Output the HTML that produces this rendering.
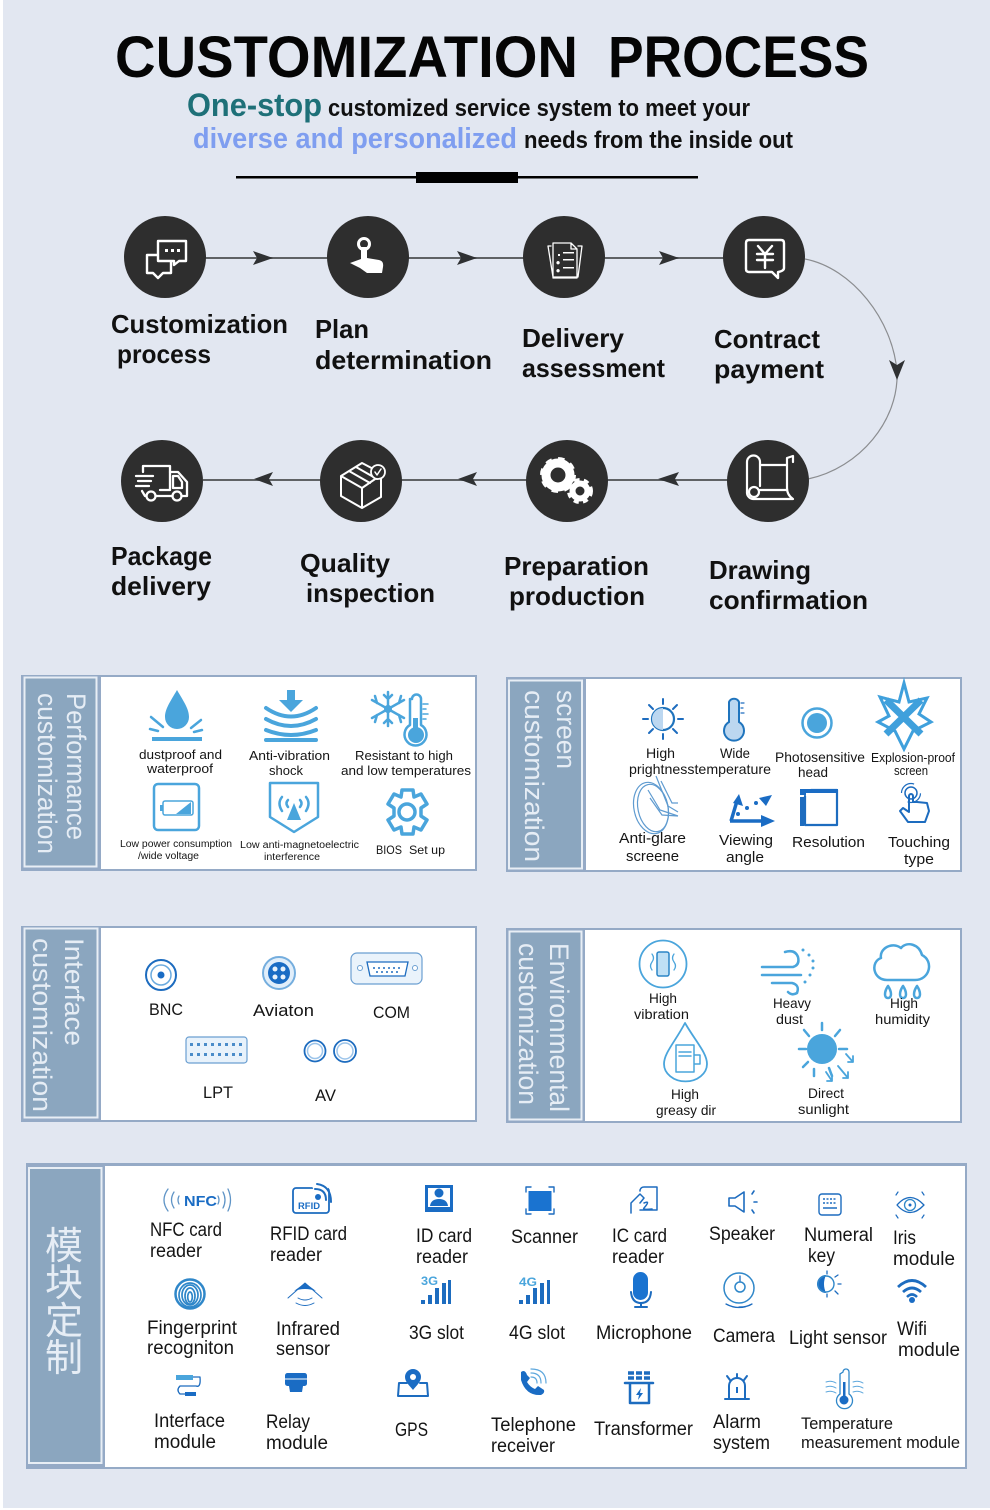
<!DOCTYPE html>
<html><head><meta charset="utf-8"><title>Customization Process</title>
<style>
html,body{margin:0;padding:0;background:#fff;width:990px;height:1510px;overflow:hidden}
svg{display:block}
text{font-family:"Liberation Sans","Noto Sans CJK SC",sans-serif;fill:#151515}
.h{font-weight:700;font-size:58px;fill:#050505}
.s{font-weight:700;font-size:24px;fill:#111}
.st{font-weight:700;font-size:26px;fill:#111}
.v{font-size:27px;fill:#e6edf5}
.a{font-size:13px}.b{font-size:10px}.c{font-size:14px}.d{font-size:17px}.e{font-size:14px}.f{font-size:19px}
.w{fill:none;stroke:#fff;stroke-width:2;stroke-linecap:round;stroke-linejoin:round}
.l{fill:none;stroke:#4aa5dc;stroke-width:2.5;stroke-linecap:round;stroke-linejoin:round}
.k{fill:none;stroke:#1d6cbf;stroke-width:2;stroke-linecap:round;stroke-linejoin:round}
.lf{fill:#4aa5dc}.kf{fill:#1a6cc4}
</style></head><body>
<svg width="990" height="1510" viewBox="0 0 990 1510" xmlns="http://www.w3.org/2000/svg">
<rect x="3" y="0" width="987" height="1508" fill="#e2e7f1"/>

<!-- heading -->
<text class="h" x="115" y="77" textLength="463" lengthAdjust="spacingAndGlyphs">CUSTOMIZATION</text>
<text class="h" x="608" y="77" textLength="261" lengthAdjust="spacingAndGlyphs">PROCESS</text>
<text x="187" y="116" textLength="135" lengthAdjust="spacingAndGlyphs" style="font-size:32px;font-weight:700;fill:#1e7078">One-stop</text>
<text class="s" x="328" y="116" textLength="422" lengthAdjust="spacingAndGlyphs">customized service system to meet your</text>
<text x="193" y="148" textLength="324" lengthAdjust="spacingAndGlyphs" style="font-size:29px;font-weight:700;fill:#7f9ef0">diverse and personalized</text>
<text class="s" x="524" y="148" textLength="269" lengthAdjust="spacingAndGlyphs">needs from the inside out</text>
<rect x="236" y="176" width="462" height="2.5" fill="#000"/>
<rect x="416" y="172" width="102" height="11" fill="#000"/>

<!-- connectors -->
<g stroke="#5f6265" stroke-width="2" fill="none">
<path d="M205 258H328M408 258H525M604 258H725"/>
<path d="M203 480H322M401 480H527M606 480H728"/>
</g>
<path d="M805 259C852 268 893 320 897 372C899 420 860 468 808 479" fill="none" stroke="#8b8d90" stroke-width="1.2"/>
<g fill="#2f3133">
<path d="M273 258L253 251L257 258L253 265Z"/>
<path d="M477 258L457 251L461 258L457 265Z"/>
<path d="M679 258L659 251L663 258L659 265Z"/>
<path d="M254 479L273 472L269 479L273 486Z"/>
<path d="M458 479L477 472L473 479L477 486Z"/>
<path d="M658 479L679 472L675 479L679 486Z"/>
<path d="M897 380L889 360L897 365L905 360Z"/>
</g>

<!-- circles -->
<g fill="#2e2e2e">
<circle cx="165" cy="257" r="41"/><circle cx="368" cy="257" r="41"/><circle cx="564" cy="257" r="41"/><circle cx="764" cy="257" r="41"/>
<circle cx="162" cy="481" r="41"/><circle cx="361" cy="481" r="41"/><circle cx="567" cy="481" r="41"/><circle cx="768" cy="481" r="41"/>
</g>

<!-- step icons -->
<path class="w" style="stroke-width:2.400" d="M158 241H186V261H179L174 265V261H158ZM158 255H147V273H153L158 278L163 273H171V262"/>
<g fill="#fff"><rect x="165" y="249" width="3" height="3"/><rect x="171" y="249" width="3" height="3"/><rect x="177" y="249" width="3" height="3"/></g>
<circle cx="364" cy="244" r="5.500" fill="none" stroke="#fff" stroke-width="3"/>
<path fill="#fff" d="M350 263L361 259V247H367V258L379 260Q384 261 383 267L382 273H367L360 268Z"/>
<path class="w" style="stroke-width:1.300" d="M551 246L548 246L553 277H578L582 246H578M553 243H571L577 249V278H553ZM571 243V249H577"/>
<g fill="#fff"><path d="M558 254H560V256H558ZM558 261a1.7 1.7 0 1 0 .1 0ZM558 269a1.7 1.7 0 1 0 .1 0Z"/><rect x="563" y="252" width="11" height="1.500"/><rect x="563" y="259" width="11" height="1.500"/><rect x="563" y="267" width="11" height="1.500"/></g>
<path class="w" style="stroke-width:2.400" d="M749 240H781Q784 240 784 243V268Q784 271 778 272V278L772 272H749Q746 272 746 269V243Q746 240 749 240Z"/>
<path class="w" style="stroke-width:2.400" d="M758 246L765 254L772 246M757 254H773M757 260H773M765 254V268"/>
<g class="w" style="stroke-width:2.300"><path d="M143 472V466H170V490H160"/><path d="M170 472H178L187 482V496H183"/><path d="M173 476H178L182 482V488H173Z"/><path d="M136 476H153M138 481H151M136 486H149M142 491L145 496H146M156 496H172"/><circle cx="151" cy="496" r="4.500"/><circle cx="177" cy="496" r="4.500"/></g>
<g class="w" style="stroke-width:2"><path d="M341 476L362 463L381 473V497L362 508L341 496ZM341 476L362 488L381 475M362 488V508M349 471L370 483M356 467L377 479"/></g>
<circle cx="378" cy="472" r="7" fill="#2e2e2e" stroke="#fff" stroke-width="1.800"/><path class="w" style="stroke-width:1.500" d="M375 472L377 475L381 469"/>
<g fill="none" stroke="#fff">
<circle cx="558" cy="475" r="12" stroke-width="9"/>
<circle cx="558" cy="475" r="15.500" stroke-width="5" stroke-dasharray="6.100 6.070"/>
<circle cx="580" cy="491" r="7.500" stroke-width="6"/>
<circle cx="580" cy="491" r="11" stroke-width="4" stroke-dasharray="5 4.210"/>
</g>
<g class="w" style="stroke-width:2.200"><path d="M760 486V462A6.500 6.500 0 0 0 747 462V492A6.500 6.500 0 0 0 754 499H793Q787 495 787 488V458L793 456V462M760 465H787M760 490H787"/><circle cx="754" cy="492" r="5"/></g>

<!-- step labels -->
<text class="st" x="111" y="333" textLength="177" lengthAdjust="spacingAndGlyphs">Customization</text>
<text class="st" x="117" y="363" textLength="94" lengthAdjust="spacingAndGlyphs">process</text>
<text class="st" x="315" y="338" textLength="54" lengthAdjust="spacingAndGlyphs">Plan</text>
<text class="st" x="315" y="369" textLength="177" lengthAdjust="spacingAndGlyphs">determination</text>
<text class="st" x="522" y="347" textLength="102" lengthAdjust="spacingAndGlyphs">Delivery</text>
<text class="st" x="522" y="377" textLength="143" lengthAdjust="spacingAndGlyphs">assessment</text>
<text class="st" x="714" y="348" textLength="106" lengthAdjust="spacingAndGlyphs">Contract</text>
<text class="st" x="714" y="378" textLength="110" lengthAdjust="spacingAndGlyphs">payment</text>
<text class="st" x="111" y="565" textLength="101" lengthAdjust="spacingAndGlyphs">Package</text>
<text class="st" x="111" y="595" textLength="100" lengthAdjust="spacingAndGlyphs">delivery</text>
<text class="st" x="300" y="572" textLength="90" lengthAdjust="spacingAndGlyphs">Quality</text>
<text class="st" x="306" y="602" textLength="129" lengthAdjust="spacingAndGlyphs">inspection</text>
<text class="st" x="504" y="575" textLength="145" lengthAdjust="spacingAndGlyphs">Preparation</text>
<text class="st" x="509" y="605" textLength="136" lengthAdjust="spacingAndGlyphs">production</text>
<text class="st" x="709" y="579" textLength="102" lengthAdjust="spacingAndGlyphs">Drawing</text>
<text class="st" x="709" y="609" textLength="159" lengthAdjust="spacingAndGlyphs">confirmation</text>

<!-- panels -->
<g>
<rect x="21" y="675" width="456" height="196" fill="#95aac6"/><rect x="101" y="677" width="374" height="192" fill="#fff"/>
<rect x="24.500" y="677.500" width="72" height="189" fill="#8ba6bf" stroke="#e8eef5" stroke-width="2"/>
<rect x="506" y="677" width="456" height="195" fill="#95aac6"/><rect x="586" y="679" width="374" height="191" fill="#fff"/>
<rect x="509" y="680.500" width="73" height="188" fill="#8ba6bf" stroke="#e8eef5" stroke-width="2"/>
<rect x="21" y="926" width="456" height="196" fill="#95aac6"/><rect x="101" y="928" width="374" height="192" fill="#fff"/>
<rect x="24.500" y="928.500" width="73" height="189" fill="#8ba6bf" stroke="#e8eef5" stroke-width="2"/>
<rect x="506" y="928" width="456" height="195" fill="#95aac6"/><rect x="585" y="930" width="375" height="191" fill="#fff"/>
<rect x="509.500" y="931.500" width="72" height="188" fill="#8ba6bf" stroke="#e8eef5" stroke-width="2"/>
<rect x="26" y="1163" width="941" height="306" fill="#95aac6"/><rect x="105" y="1166" width="860" height="301" fill="#fff"/>
<rect x="29" y="1168" width="72.500" height="295" fill="#8ba6bf" stroke="#e8eef5" stroke-width="2"/>
</g>

<!-- vertical titles -->
<text class="v" transform="translate(67,693) rotate(90)" textLength="147" lengthAdjust="spacingAndGlyphs">Performance</text>
<text class="v" transform="translate(38,693) rotate(90)" textLength="161" lengthAdjust="spacingAndGlyphs">customization</text>
<text class="v" transform="translate(557,690) rotate(90)" textLength="79" lengthAdjust="spacingAndGlyphs">screen</text>
<text class="v" transform="translate(525,690) rotate(90)" textLength="172" lengthAdjust="spacingAndGlyphs">customization</text>
<text class="v" transform="translate(65,938) rotate(90)" textLength="108" lengthAdjust="spacingAndGlyphs">Interface</text>
<text class="v" transform="translate(33,938) rotate(90)" textLength="174" lengthAdjust="spacingAndGlyphs">customization</text>
<text class="v" transform="translate(550,943) rotate(90)" textLength="169" lengthAdjust="spacingAndGlyphs">Environmental</text>
<text class="v" transform="translate(519,943) rotate(90)" textLength="162" lengthAdjust="spacingAndGlyphs">customization</text>
<g text-anchor="middle">
<text x="64" y="1259" style="font-size:38px;fill:#e6edf5;font-family:'Noto Sans CJK SC',sans-serif">模</text>
<text x="64" y="1296" style="font-size:38px;fill:#e6edf5;font-family:'Noto Sans CJK SC',sans-serif">块</text>
<text x="64" y="1334" style="font-size:38px;fill:#e6edf5;font-family:'Noto Sans CJK SC',sans-serif">定</text>
<text x="64" y="1371" style="font-size:38px;fill:#e6edf5;font-family:'Noto Sans CJK SC',sans-serif">制</text>
</g>

<!-- panel 1 icons -->
<path class="lf" d="M177 690C170 702 165 709 165 717A12 12 0 0 0 189 717C189 709 184 702 177 690Z"/>
<rect x="152" y="737" width="50" height="4" class="lf"/>
<path class="l" d="M151 717L163 727M150 729L158 731M201 720L191 728M202 730L194 732"/>
<path class="lf" d="M287 690H295V700H303L291 712L279 700H287Z"/>
<g class="l" style="stroke-width:4"><path d="M266 708Q291 725 316 708M266 719Q291 733 316 719M266 730Q291 740 316 730M266 740H316"/></g>
<g class="l"><path d="M388 692V726M372 700L404 718M372 718L404 700M384 695L388 699L392 695M384 723L388 719L392 723M375 696L377 703M375 722L377 715M401 696L399 703M401 722L399 715"/></g>
<circle cx="388" cy="709" r="4" class="lf"/>
<path class="l" d="M411 699A4.500 4.500 0 0 1 420 699V725A11 11 0 1 1 409 725V699Z" transform="translate(1,0)"/>
<circle cx="416" cy="735" r="8" class="lf"/><rect x="413" y="718" width="5" height="14" class="lf"/>
<path class="l" style="stroke-width:1.500" d="M423 704H428M423 709H426M423 714H428M423 719H426"/>
<rect x="154" y="784" width="45" height="46" rx="4" fill="none" stroke="#4aa5dc" stroke-width="2.500"/>
<rect x="163" y="801" width="30" height="14" rx="2" fill="none" stroke="#4aa5dc" stroke-width="1.500"/><rect x="160" y="805" width="3" height="6" class="lf"/>
<path class="lf" d="M176 814L191 802V814Z"/>
<path class="l" d="M270 783H318V817L294 832L270 817Z"/>
<path class="lf" d="M294 803L301 820H287Z"/>
<path class="l" d="M288 800Q285 803 288 807M300 800Q303 803 300 807M282 797Q277 803 282 811M306 797Q311 803 306 811"/>
<g fill="none" stroke="#4aa5dc" stroke-width="3.500" stroke-linejoin="round"><path d="M402 790H413L414 797L421 794L427 804L421 808V816L427 820L421 830L414 827L413 834H402L401 827L394 830L388 820L394 816V808L388 804L394 794L401 797Z"/><circle cx="407" cy="812" r="8"/></g>

<text class="a" x="139" y="759" textLength="83" lengthAdjust="spacingAndGlyphs">dustproof and</text>
<text class="a" x="147" y="773" textLength="66" lengthAdjust="spacingAndGlyphs">waterproof</text>
<text class="a" x="249" y="760" textLength="81" lengthAdjust="spacingAndGlyphs">Anti-vibration</text>
<text class="a" x="269" y="775" textLength="34" lengthAdjust="spacingAndGlyphs">shock</text>
<text class="a" x="355" y="760" textLength="98" lengthAdjust="spacingAndGlyphs">Resistant to high</text>
<text class="a" x="341" y="775" textLength="130" lengthAdjust="spacingAndGlyphs">and low temperatures</text>
<text class="b" x="120" y="847" textLength="112" lengthAdjust="spacingAndGlyphs">Low power consumption</text>
<text class="b" x="138" y="859" textLength="61" lengthAdjust="spacingAndGlyphs">/wide voltage</text>
<text class="b" x="240" y="848" textLength="119" lengthAdjust="spacingAndGlyphs">Low anti-magnetoelectric</text>
<text class="b" x="264" y="860" textLength="56" lengthAdjust="spacingAndGlyphs">interference</text>
<text x="376" y="854" textLength="26" lengthAdjust="spacingAndGlyphs" style="font-size:12px">BIOS</text>
<text x="409" y="854" textLength="36" lengthAdjust="spacingAndGlyphs" style="font-size:12px">Set up</text>

<!-- panel 2 icons -->
<circle cx="663" cy="719" r="11" fill="none" stroke="#1f74bd" stroke-width="2.200"/><path d="M663 708A11 11 0 0 0 663 730Z" fill="#bcd7f0"/>
<path class="k" d="M663 699V704M663 734V739M643 719H648M678 719H683M649 705L653 709M677 705L673 709M649 733L653 729M677 733L673 729"/>
<path d="M729 702A5.500 5.500 0 0 1 739 702V722A10 10 0 1 1 729 722Z" fill="#bcd7f0" stroke="#1f74bd" stroke-width="2"/>
<path class="k" style="stroke-width:1.200" d="M741 703H744M741 708H743M741 713H744"/>
<circle cx="817" cy="723" r="14.500" fill="none" stroke="#4aa5dc" stroke-width="2.500"/><circle cx="817" cy="723" r="10" class="lf"/>
<g fill="none" stroke="#3fa0dc"><path stroke-width="7" d="M886 700L921 734M921 700L886 734"/><path stroke-width="3" fill="#fff" fill-opacity="0" d="M904 683L899 702L880 697L889 716L878 722L895 731L904 749L913 731L931 722L919 714L927 698L909 702Z"/></g>
<g fill="none" stroke="#5f9bd0" stroke-width="1.200"><ellipse cx="651" cy="808" rx="17" ry="26" transform="rotate(-12 651 808)"/><ellipse cx="653" cy="808" rx="15" ry="24" transform="rotate(-12 653 808)"/><path d="M656 776L668 806L678 812M661 781L672 803L678 803M648 790L660 810L678 816M650 798L662 815L678 816"/></g>
<path d="M731 821L737 801" stroke="#1a6cc4" stroke-width="3.500" fill="none"/><path d="M739 794L743 806L733 803Z" class="kf"/>
<path d="M730 821H762" stroke="#1a6cc4" stroke-width="3.500" fill="none"/><path d="M775 821L761 815V827Z" class="kf"/>
<path d="M772 795L759 798L766 806Z" class="kf"/>
<g class="kf"><circle cx="738" cy="814" r="2"/><circle cx="747" cy="808" r="2"/><circle cx="756" cy="803" r="2"/></g>
<g class="k" style="stroke-width:2.200"><path d="M811 790H837V825H805V796"/></g>
<rect x="800" y="789" width="6" height="6" class="kf"/><rect x="800" y="797" width="4" height="29" fill="#1d6cbf"/><rect x="806" y="789" width="32" height="4" class="kf"/>
<path class="k" d="M909 796V812L903 808L900 811L908 822H925L929 811L927 803L917 802L913 802V796A2 2 0 0 0 909 796"/>
<circle cx="911" cy="793" r="6" fill="none" stroke="#1d6cbf" stroke-width="1.500"/><circle cx="911" cy="793" r="9.500" fill="none" stroke="#1d6cbf" stroke-width="1.200" stroke-dasharray="18 12" transform="rotate(180 911 793)"/>

<text class="c" x="646" y="758" textLength="29" lengthAdjust="spacingAndGlyphs">High</text>
<text class="c" x="629" y="774" textLength="142" lengthAdjust="spacingAndGlyphs">prightnesstemperature</text>
<text class="c" x="720" y="758" textLength="30" lengthAdjust="spacingAndGlyphs">Wide</text>
<text class="c" x="775" y="762" textLength="90" lengthAdjust="spacingAndGlyphs">Photosensitive</text>
<text class="c" x="798" y="777" textLength="30" lengthAdjust="spacingAndGlyphs">head</text>
<text class="a" x="871" y="762" textLength="84" lengthAdjust="spacingAndGlyphs">Explosion-proof</text>
<text class="a" x="894" y="775" textLength="34" lengthAdjust="spacingAndGlyphs">screen</text>
<text class="c" x="619" y="843" textLength="67" lengthAdjust="spacingAndGlyphs" style="font-size:15px">Anti-glare</text>
<text class="c" x="626" y="861" textLength="53" lengthAdjust="spacingAndGlyphs" style="font-size:15px">screene</text>
<text class="c" x="719" y="845" textLength="54" lengthAdjust="spacingAndGlyphs" style="font-size:15px">Viewing</text>
<text class="c" x="726" y="862" textLength="38" lengthAdjust="spacingAndGlyphs" style="font-size:15px">angle</text>
<text class="c" x="792" y="847" textLength="73" lengthAdjust="spacingAndGlyphs" style="font-size:15px">Resolution</text>
<text class="c" x="888" y="847" textLength="62" lengthAdjust="spacingAndGlyphs" style="font-size:15px">Touching</text>
<text class="c" x="904" y="864" textLength="30" lengthAdjust="spacingAndGlyphs" style="font-size:15px">type</text>

<!-- panel 3 icons -->
<circle cx="161" cy="975" r="15" fill="none" stroke="#1d6cbf" stroke-width="2"/><circle cx="161" cy="975" r="10" fill="none" stroke="#6aaade" stroke-width="1.500"/><circle cx="161" cy="975" r="3.500" class="kf"/>
<circle cx="279" cy="973" r="16" fill="#e1eefa" stroke="#75aede" stroke-width="2"/><circle cx="279" cy="973" r="11" class="kf"/>
<g fill="#e8f2fb"><circle cx="275" cy="969" r="2.500"/><circle cx="283" cy="969" r="2.500"/><circle cx="275" cy="977" r="2.500"/><circle cx="283" cy="977" r="2.500"/></g>
<rect x="351" y="953" width="71" height="31" rx="6" fill="#eaf3fb" stroke="#6b9fd1" stroke-width="1.200"/>
<path d="M367 962H408L405 976H370Z" fill="#fff" stroke="#1d6cbf" stroke-width="1.300"/><path d="M373 968H403M376 972H399" stroke="#1d6cbf" stroke-width="1.500" stroke-dasharray="2 3"/>
<circle cx="360" cy="968" r="2.500" fill="#fff" stroke="#6b9fd1"/><circle cx="415" cy="968" r="2.500" fill="#fff" stroke="#6b9fd1"/>
<rect x="186" y="1037" width="61" height="26" rx="3" fill="#e8f2fb" stroke="#6b9fd1" stroke-width="1.200"/>
<path d="M190 1044.500H244M190 1054.500H244" stroke="#4a8cc9" stroke-width="3" stroke-dasharray="3 4"/>
<circle cx="315" cy="1051" r="10.500" fill="none" stroke="#1d6cbf" stroke-width="1.800"/><circle cx="315" cy="1051" r="7.500" fill="#fff" stroke="#9cc4ea" stroke-width="1.500"/>
<circle cx="345" cy="1051" r="11" fill="none" stroke="#1d6cbf" stroke-width="1.800"/><circle cx="345" cy="1051" r="8" fill="#fff" stroke="#9cc4ea" stroke-width="1.500"/>

<text class="d" x="149" y="1015" textLength="34" lengthAdjust="spacingAndGlyphs">BNC</text>
<text class="d" x="253" y="1016" textLength="61" lengthAdjust="spacingAndGlyphs">Aviaton</text>
<text class="d" x="373" y="1018" textLength="37" lengthAdjust="spacingAndGlyphs">COM</text>
<text class="d" x="203" y="1098" textLength="30" lengthAdjust="spacingAndGlyphs">LPT</text>
<text class="d" x="315" y="1101" textLength="21" lengthAdjust="spacingAndGlyphs">AV</text>

<!-- panel 4 icons -->
<circle cx="663" cy="964" r="23.500" fill="none" stroke="#4aa5dc" stroke-width="1.800"/>
<rect x="657" y="952" width="12" height="24" rx="2" fill="#bfe0f5" stroke="#2c85c6" stroke-width="1.500"/><path class="l" style="stroke-width:1.300" d="M652 954Q655 958 652 962Q649 966 652 970M674 954Q671 958 674 962Q677 966 674 970"/>
<path class="l" d="M762 967H793Q800 965 798 957Q795 949 785 952M762 975H801M772 983H792Q800 985 797 993Q792 996 788 992"/>
<g class="lf"><circle cx="803" cy="950" r="1.500"/><circle cx="809" cy="955" r="1.500"/><circle cx="813" cy="961" r="1.500"/><circle cx="813" cy="968" r="1.500"/><circle cx="810" cy="975" r="1.500"/><circle cx="805" cy="982" r="1.500"/></g>
<path class="l" d="M887 980H915C930 980 934 961 922 955C919 944 907 941 901 948C892 941 879 949 881 958C870 962 873 980 887 980Z"/>
<path class="l" d="M888 986C884 992 884 998 888 998C892 998 892 992 888 986ZM903 986C899 992 899 998 903 998C907 998 907 992 903 986ZM917 986C913 992 913 998 917 998C921 998 921 992 917 986Z"/>
<path class="l" style="stroke-width:1.800" d="M685 1023C675 1042 664 1053 664 1064A21 17 0 0 0 707 1064C707 1053 696 1042 685 1023Z"/>
<path class="l" style="stroke-width:1.500" d="M676 1045H694V1072H676ZM694 1055H700V1064H694ZM679 1052H691M679 1056H691"/>
<circle cx="822" cy="1049" r="15" class="lf"/>
<path class="l" d="M822 1023V1030M799 1049H806M804 1030L809 1036M840 1030L835 1036M803 1067L808 1062M839 1049H847M829 1068L832 1076M814 1069V1076"/>
<path class="l" style="stroke-width:1.800" d="M846 1054L853 1062M853 1056V1062H848M826 1072L832 1081M832 1075V1081H827M838 1066L848 1078M848 1072V1078H843"/>

<text class="e" x="649" y="1003" textLength="28" lengthAdjust="spacingAndGlyphs">High</text>
<text class="e" x="634" y="1019" textLength="55" lengthAdjust="spacingAndGlyphs">vibration</text>
<text class="e" x="773" y="1008" textLength="38" lengthAdjust="spacingAndGlyphs">Heavy</text>
<text class="e" x="776" y="1024" textLength="27" lengthAdjust="spacingAndGlyphs">dust</text>
<text class="e" x="890" y="1008" textLength="28" lengthAdjust="spacingAndGlyphs">High</text>
<text class="e" x="875" y="1024" textLength="55" lengthAdjust="spacingAndGlyphs">humidity</text>
<text class="e" x="671" y="1099" textLength="28" lengthAdjust="spacingAndGlyphs">High</text>
<text class="e" x="656" y="1115" textLength="60" lengthAdjust="spacingAndGlyphs">greasy dir</text>
<text class="e" x="808" y="1098" textLength="36" lengthAdjust="spacingAndGlyphs">Direct</text>
<text class="e" x="798" y="1114" textLength="51" lengthAdjust="spacingAndGlyphs">sunlight</text>

<!-- panel 5 icons -->
<text x="184" y="1206" textLength="33" lengthAdjust="spacingAndGlyphs" style="font-size:15px;font-weight:700;fill:#1a6cc4">NFC</text>
<path class="k" style="stroke-width:1.300;stroke:#5f94c6" d="M168 1189Q160 1200 168 1211M174 1192Q169 1200 174 1208M179 1196Q177 1200 179 1204M218 1196Q220 1200 218 1204M223 1192Q227 1200 223 1208M228 1189Q233 1200 228 1211"/>
<rect x="293" y="1188" width="36" height="25" rx="3" fill="#fff" stroke="#1d6cbf" stroke-width="1.800"/>
<text x="298" y="1209" textLength="22" lengthAdjust="spacingAndGlyphs" style="font-size:9px;font-weight:700;fill:#1a6cc4">RFID</text>
<path d="M312 1186H328V1200H318Z" fill="#fff"/>
<circle cx="318" cy="1197" r="3" class="kf"/><path class="k" d="M315 1189Q326 1189 326 1200M317 1184Q331 1186 331 1202"/>
<rect x="425" y="1185" width="28" height="27" fill="#1a6cc4"/><rect x="428" y="1188" width="22" height="19" fill="#fff"/><circle cx="439" cy="1193" r="4.500" fill="#1a6cc4"/><path d="M430 1206Q431 1199 439 1199Q447 1199 448 1206Z" fill="#1a6cc4"/>
<g fill="none" stroke="#2f87c9" stroke-width="1.700"><circle cx="190" cy="1294" r="14.500" stroke-width="2.500"/><ellipse cx="190" cy="1295" rx="11" ry="12"/><ellipse cx="190" cy="1295" rx="8" ry="10"/><ellipse cx="190" cy="1296" rx="5" ry="8"/><ellipse cx="190" cy="1297" rx="2.300" ry="5"/></g>
<path class="kf" d="M305 1283L316 1291Q305 1287 294 1291Z"/><path class="k" style="stroke-width:1" d="M288 1298L305 1283L322 1298M298 1298Q305 1302 312 1298M296 1303Q305 1308 314 1303"/>
<text x="421" y="1285" textLength="17" lengthAdjust="spacingAndGlyphs" style="font-size:12px;font-weight:700;fill:#4aa5dc">3G</text>
<path d="M421 1300h4v4h-4zM428 1295h4v9h-4zM435 1288h4v16h-4zM442 1283h4v21h-4zM448 1280h3v24h-3z" fill="#1d6cbf"/>
<path class="k" style="stroke-width:1.300" d="M193 1377H200Q201 1388 196 1386H180Q176 1390 180 1394H190"/>
<rect x="176" y="1375" width="17" height="5" fill="#4aa5dc"/><rect x="185" y="1392" width="11" height="4" class="kf"/>
<rect x="285" y="1373" width="22" height="13" rx="2.500" class="kf"/><path d="M289 1386H303L302 1392H290Z" class="kf"/>
<path d="M285 1379H307" stroke="#fff" stroke-width="1"/>
<path class="k" d="M407 1383H399L398 1396H428L427 1383H420"/><path class="kf" d="M413 1369A8 8 0 0 1 421 1377C421 1382 416 1386 413 1390C410 1386 405 1382 405 1377A8 8 0 0 1 413 1369Z"/><circle cx="413" cy="1377" r="3" fill="#fff"/>
<rect x="528.500" y="1191" width="23" height="20" fill="#1a73d0"/><path class="k" style="stroke-width:1.400" d="M526 1192V1187H531M549 1187H554V1192M526 1209V1214H531M549 1214H554V1209"/>
<path class="k" style="stroke-width:1.500" d="M640 1191V1190Q641 1187 644 1187H657V1210H640M631 1213V1203L640 1194L644 1198L640 1203M644 1203Q651 1200 644 1208Q642 1210 652 1209"/>
<path class="k" style="stroke-width:1.600" d="M729 1198H735L744 1192V1212L735 1206H729ZM752 1194L754 1191M754 1202H757M752 1210L754 1213"/>
<rect x="819" y="1194" width="22" height="21" rx="3" fill="none" stroke="#1d6cbf" stroke-width="1.400"/><path d="M823 1199H837M823 1203H837" stroke="#1d6cbf" stroke-width="1.500" stroke-dasharray="2 1.500"/><path d="M823 1208H837" stroke="#1d6cbf" stroke-width="1.500"/>
<path class="k" style="stroke-width:1.300" d="M897 1205Q910 1190 924 1205Q910 1220 897 1205Z"/><circle cx="910" cy="1205" r="5.500" fill="none" stroke="#2f87c9" stroke-width="1.300"/><circle cx="910" cy="1205" r="1.500" class="kf"/>
<path class="k" style="stroke-width:1.200" d="M898 1192L896 1195M922 1192L924 1195M898 1218L896 1215M922 1218L924 1215"/>
<text x="519" y="1286" textLength="18" lengthAdjust="spacingAndGlyphs" style="font-size:12px;font-weight:700;fill:#4aa5dc">4G</text>
<path d="M519 1300h4v4h-4zM526 1295h4v9h-4zM533 1288h4v16h-4zM540 1283h4v21h-4zM547 1280h3v24h-3z" fill="#1d6cbf"/>
<rect x="633" y="1272" width="15" height="28" rx="7.500" fill="#1a73d0"/><path class="k" d="M631 1292Q632 1303 641 1303Q650 1303 651 1292M641 1303V1307M635 1307H647"/>
<circle cx="739" cy="1288" r="15" fill="none" stroke="#2f87c9" stroke-width="1.500"/><circle cx="740" cy="1287" r="5" fill="none" stroke="#2f87c9" stroke-width="1.500"/><path class="k" style="stroke-width:1.300" d="M726 1304Q739 1311 752 1304Q748 1307 739 1307M740 1276V1281"/>
<path class="kf" d="M826 1275A9 9 0 0 0 826 1293Q822 1284 826 1275Z"/><circle cx="826" cy="1284" r="8" fill="none" stroke="#2f87c9" stroke-width="1.400"/><path class="k" style="stroke-width:1.300" d="M827 1274V1271M835 1277L838 1275M838 1284H841M835 1291L838 1294M827 1294V1297"/>
<path d="M898 1287Q912 1274 926 1287" fill="none" stroke="#1d6cbf" stroke-width="2.800"/><path d="M903 1292Q912 1284 921 1292" fill="none" stroke="#1d6cbf" stroke-width="2.800"/><path d="M907 1297Q912 1292 917 1297" fill="none" stroke="#1d6cbf" stroke-width="2.500"/><circle cx="912" cy="1300" r="3" class="kf"/>
<path class="kf" d="M521 1372Q525 1369 527 1375L530 1378L527 1382Q530 1387 535 1389L538 1386L544 1390Q545 1393 541 1395Q526 1396 521 1380Z"/>
<path class="k" style="stroke-width:1.200;stroke:#5fa8dd" d="M531 1377Q537 1377 537 1383M531 1373Q541 1373 541 1383M531 1369Q546 1369 546 1383"/>
<path d="M628 1373H651M628 1378H651" stroke="#1d6cbf" stroke-width="3.500" stroke-dasharray="6 2"/>
<path class="k" d="M625 1383H653M630 1383V1403H649V1383" style="stroke-width:2.500"/><path class="kf" d="M641 1388L636 1395H639L638 1400L643 1393H640Z"/>
<path class="k" d="M725 1399H749M729 1399V1386A8 8 0 0 1 745 1386V1399" style="stroke-width:2"/><rect x="736" y="1387" width="2" height="6" class="kf"/><path class="k" d="M737 1374V1378M727 1376L730 1380M747 1376L744 1380"/>
<path d="M843 1372A3 3 0 0 1 849 1372V1394A8 8 0 1 1 840 1394V1374Z" fill="#fff" stroke="#2f87c9" stroke-width="1.300"/><circle cx="844" cy="1400" r="4.500" class="kf"/><rect x="843" y="1382" width="2.500" height="16" class="kf"/>
<path class="k" style="stroke-width:1;stroke:#5fa8dd" d="M826 1382Q831 1380 836 1383M826 1387Q831 1385 836 1388M826 1392Q831 1390 836 1393M853 1382Q858 1380 863 1383M853 1387Q858 1385 863 1388M853 1392Q858 1390 863 1393"/>

<!-- panel 5 labels -->
<text class="f" x="150" y="1236" textLength="72" lengthAdjust="spacingAndGlyphs">NFC card</text>
<text class="f" x="150" y="1257" textLength="52" lengthAdjust="spacingAndGlyphs">reader</text>
<text class="f" x="270" y="1240" textLength="77" lengthAdjust="spacingAndGlyphs">RFID card</text>
<text class="f" x="270" y="1261" textLength="52" lengthAdjust="spacingAndGlyphs">reader</text>
<text class="f" x="416" y="1242" textLength="56" lengthAdjust="spacingAndGlyphs">ID card</text>
<text class="f" x="416" y="1263" textLength="52" lengthAdjust="spacingAndGlyphs">reader</text>
<text class="f" x="511" y="1243" textLength="67" lengthAdjust="spacingAndGlyphs">Scanner</text>
<text class="f" x="612" y="1242" textLength="55" lengthAdjust="spacingAndGlyphs">IC card</text>
<text class="f" x="612" y="1263" textLength="52" lengthAdjust="spacingAndGlyphs">reader</text>
<text class="f" x="709" y="1240" textLength="66" lengthAdjust="spacingAndGlyphs">Speaker</text>
<text class="f" x="804" y="1241" textLength="69" lengthAdjust="spacingAndGlyphs">Numeral</text>
<text class="f" x="808" y="1262" textLength="27" lengthAdjust="spacingAndGlyphs">key</text>
<text class="f" x="893" y="1244" textLength="23" lengthAdjust="spacingAndGlyphs">Iris</text>
<text class="f" x="893" y="1265" textLength="62" lengthAdjust="spacingAndGlyphs">module</text>
<text class="f" x="147" y="1334" textLength="90" lengthAdjust="spacingAndGlyphs">Fingerprint</text>
<text class="f" x="147" y="1354" textLength="87" lengthAdjust="spacingAndGlyphs">recogniton</text>
<text class="f" x="276" y="1335" textLength="64" lengthAdjust="spacingAndGlyphs">Infrared</text>
<text class="f" x="276" y="1355" textLength="54" lengthAdjust="spacingAndGlyphs">sensor</text>
<text class="f" x="409" y="1339" textLength="55" lengthAdjust="spacingAndGlyphs">3G slot</text>
<text class="f" x="509" y="1339" textLength="56" lengthAdjust="spacingAndGlyphs">4G slot</text>
<text class="f" x="596" y="1339" textLength="96" lengthAdjust="spacingAndGlyphs">Microphone</text>
<text class="f" x="713" y="1342" textLength="62" lengthAdjust="spacingAndGlyphs">Camera</text>
<text class="f" x="789" y="1344" textLength="98" lengthAdjust="spacingAndGlyphs">Light sensor</text>
<text class="f" x="897" y="1335" textLength="30" lengthAdjust="spacingAndGlyphs">Wifi</text>
<text class="f" x="898" y="1356" textLength="62" lengthAdjust="spacingAndGlyphs">module</text>
<text class="f" x="154" y="1427" textLength="71" lengthAdjust="spacingAndGlyphs">Interface</text>
<text class="f" x="154" y="1448" textLength="62" lengthAdjust="spacingAndGlyphs">module</text>
<text class="f" x="266" y="1428" textLength="44" lengthAdjust="spacingAndGlyphs">Relay</text>
<text class="f" x="266" y="1449" textLength="62" lengthAdjust="spacingAndGlyphs">module</text>
<text class="f" x="395" y="1436" textLength="33" lengthAdjust="spacingAndGlyphs">GPS</text>
<text class="f" x="491" y="1431" textLength="85" lengthAdjust="spacingAndGlyphs">Telephone</text>
<text class="f" x="491" y="1452" textLength="64" lengthAdjust="spacingAndGlyphs">receiver</text>
<text class="f" x="594" y="1435" textLength="99" lengthAdjust="spacingAndGlyphs">Transformer</text>
<text class="f" x="713" y="1428" textLength="48" lengthAdjust="spacingAndGlyphs">Alarm</text>
<text class="f" x="713" y="1449" textLength="57" lengthAdjust="spacingAndGlyphs">system</text>
<text class="f" x="801" y="1429" textLength="92" lengthAdjust="spacingAndGlyphs" style="font-size:17px">Temperature</text>
<text class="f" x="801" y="1448" textLength="159" lengthAdjust="spacingAndGlyphs" style="font-size:17px">measurement module</text>
</svg>
</body></html>
